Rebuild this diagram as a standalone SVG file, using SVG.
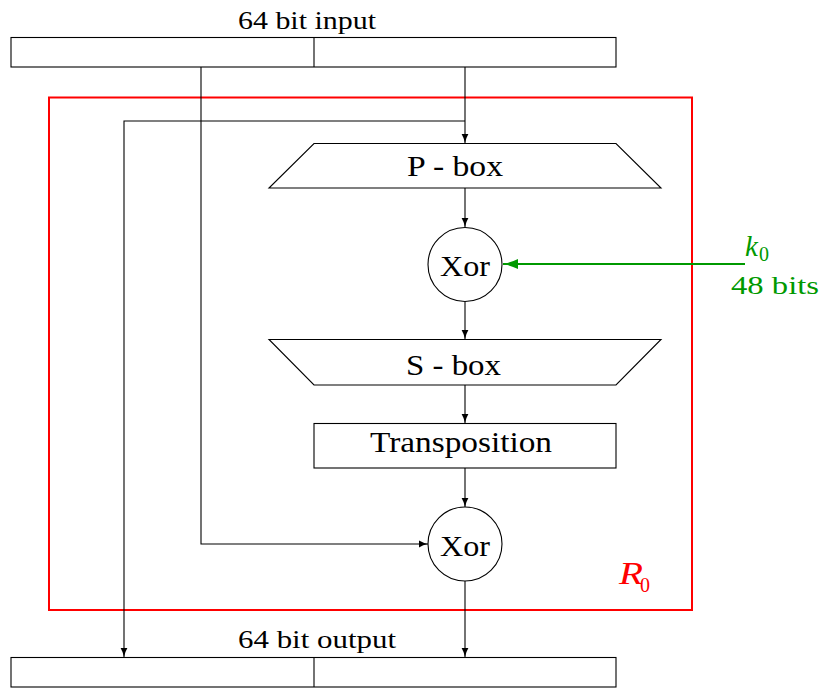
<svg xmlns="http://www.w3.org/2000/svg" width="826" height="689" viewBox="0 0 826 689">
<style>
.ln{fill:none;stroke:#000;stroke-width:1.1}
.box{fill:#fff;stroke:#000;stroke-width:1.1}
.t{font-family:"Liberation Serif","DejaVu Serif",serif;fill:#000}
.s{font-size:25px}
.b{font-size:30px}
.g{fill:#009900}
.r{fill:#ff0000}
</style>
<defs>
<marker id="ah" markerUnits="userSpaceOnUse" markerWidth="10" markerHeight="8" refX="9" refY="4" orient="auto">
<path d="M0,0.6 Q4,3 9,4 Q4,5 0,7.4 Z" fill="#000"/>
</marker>
<marker id="ahg" markerUnits="userSpaceOnUse" markerWidth="16" markerHeight="12" refX="15" refY="6" orient="auto">
<path d="M0,1 Q7,4.5 15,6 Q7,7.5 0,11 Z" fill="#009900"/>
</marker>
</defs>

<g id="round-frame">
<rect x="49" y="97.5" width="643" height="512.5" fill="none" stroke="#ff0000" stroke-width="2"/>
<text class="t r" x="619" y="584" font-size="31" font-style="italic" textLength="24" lengthAdjust="spacingAndGlyphs">R</text>
<text class="t r" x="640" y="592" font-size="20">0</text>
</g>

<g id="connectors">
<path class="ln" d="M465,67 V143" marker-end="url(#ah)"/>
<path class="ln" d="M465,121 H124 V657" marker-end="url(#ah)"/>
<path class="ln" d="M201,67 V544 H428" marker-end="url(#ah)"/>
<path class="ln" d="M465,188 V227" marker-end="url(#ah)"/>
<path class="ln" d="M465,302 V339" marker-end="url(#ah)"/>
<path class="ln" d="M465,385 V423" marker-end="url(#ah)"/>
<path class="ln" d="M465,468 V507" marker-end="url(#ah)"/>
<path class="ln" d="M465,581 V657" marker-end="url(#ah)"/>
<path d="M745,264 H503" fill="none" stroke="#009900" stroke-width="2" marker-end="url(#ahg)"/>
</g>

<g id="input">
<rect class="box" x="11" y="37.5" width="605" height="29.5"/>
<line class="ln" x1="314" y1="37.5" x2="314" y2="67"/>
<text class="t s" x="238" y="29" textLength="138" lengthAdjust="spacingAndGlyphs">64 bit input</text>
</g>

<g id="pbox">
<polygon class="box" points="314,143.5 616,143.5 661,188 269,188"/>
<text class="t b" x="407" y="176" textLength="96" lengthAdjust="spacingAndGlyphs">P - box</text>
</g>

<g id="xor1">
<circle class="box" cx="465" cy="264.5" r="37"/>
<text class="t b" x="465" y="276" text-anchor="middle" textLength="50" lengthAdjust="spacingAndGlyphs">Xor</text>
</g>

<g id="key">
<text class="t g" x="745" y="256" font-size="29" font-style="italic">k</text>
<text class="t g" x="759" y="261" font-size="20">0</text>
<text class="t g" x="731" y="294" font-size="25" textLength="88" lengthAdjust="spacingAndGlyphs">48 bits</text>
</g>

<g id="sbox">
<polygon class="box" points="269,339.5 661,339.5 616,385 314,385"/>
<text class="t b" x="406" y="375" textLength="95" lengthAdjust="spacingAndGlyphs">S - box</text>
</g>

<g id="transposition">
<rect class="box" x="314" y="423.5" width="302" height="44.5"/>
<text class="t b" x="370" y="452" textLength="182" lengthAdjust="spacingAndGlyphs">Transposition</text>
</g>

<g id="xor2">
<circle class="box" cx="465" cy="544" r="37"/>
<text class="t b" x="465" y="556" text-anchor="middle" textLength="50" lengthAdjust="spacingAndGlyphs">Xor</text>
</g>

<g id="output">
<rect class="box" x="11" y="657.5" width="605" height="29.5"/>
<line class="ln" x1="314" y1="657.5" x2="314" y2="687"/>
<text class="t s" x="238" y="648" textLength="158" lengthAdjust="spacingAndGlyphs">64 bit output</text>
</g>
</svg>
